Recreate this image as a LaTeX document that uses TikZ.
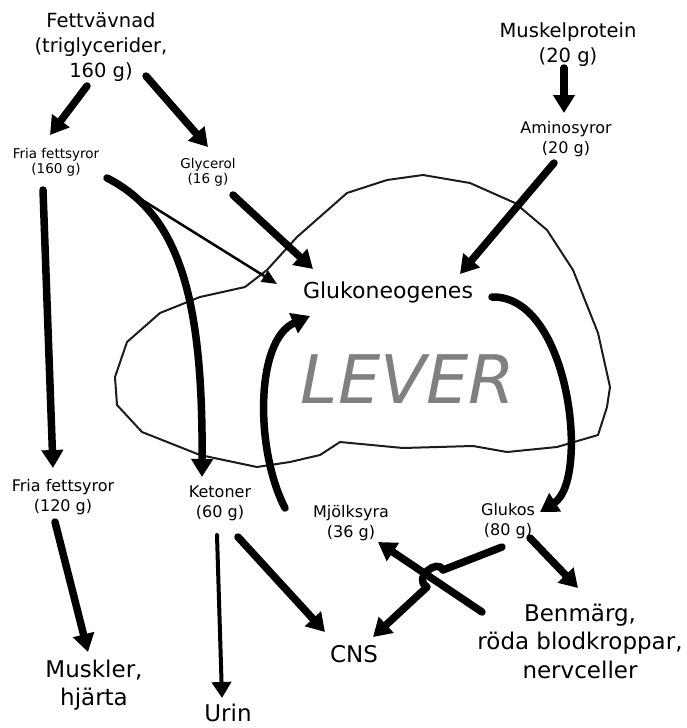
\documentclass[tikz,border=0pt]{standalone}
\usepackage{fontspec}
\setmainfont{DejaVu Sans}
\usetikzlibrary{arrows.meta, positioning, calc}
\usepackage{xcolor}
\definecolor{leverGray}{RGB}{128,128,128}
\definecolor{outlineDark}{RGB}{24,28,36}

\begin{document}
\begin{tikzpicture}[x=1pt, y=-1pt,
    srcbox/.style={align=center, inner sep=0pt, font=\fontsize{19.5}{25}\selectfont},
    endbox/.style={align=center, inner sep=0pt, font=\fontsize{23}{28.5}\selectfont},
    midlabel/.style={align=center, inner sep=0pt, font=\fontsize{16}{20}\selectfont},
    tinylabel/.style={align=center, inner sep=0pt, font=\fontsize{13.5}{15}\selectfont},
    procbox/.style={inner sep=0pt, font=\fontsize{22}{26}\selectfont},
    organ/.style={inner sep=0pt, text=leverGray, font=\fontsize{67}{70}\selectfont\itshape},
    liverline/.style={draw=outlineDark, line width=2pt, line join=round},
    flow/.style={-{Triangle[length=18pt,width=21pt]}, line width=7.5pt, line cap=round, line join=round},
    thinflow/.style={-{Triangle[length=15pt,width=13pt]}, line width=2.5pt, line cap=round},
    midflow/.style={-{Triangle[length=16pt,width=19pt]}, line width=4pt, line cap=round}
]
\useasboundingbox (0,0) rectangle (686,728);

% the liver outline
\draw[liverline] (245,287) -- (267,270) -- (297,237) -- (347,193) -- (387,180) -- (423,175)
  -- (470,183) -- (515,203) -- (547,230) -- (573,270) -- (598,333) -- (610,387) -- (607,407)
  -- (598,435) -- (557,447) -- (507,452) -- (473,446) -- (403,448) -- (340,442) -- (320,455)
  -- (290,462) -- (257,467) -- (200,455) -- (142,432) -- (117,405) -- (115,377) -- (127,342)
  -- (160,313) -- (200,297) -- cycle;

% sources
\node[srcbox] (fett) at (101,47) {Fettvävnad\\(triglycerider,\\160 g)};
\node[srcbox] (musk) at (568,45) {Muskelprotein\\(20 g)};
\node[tinylabel] (fria1) at (56,162) {Fria fettsyror\\(160 g)};
\node[tinylabel] (glyc) at (208,172) {Glycerol\\(16 g)};
\node[midlabel] (amino) at (566,139) {Aminosyror\\(20 g)};

% liver
\node[procbox] (gluko) at (388,292) {Glukoneogenes};
\node[organ] (lever) at (408,379) {LEVER};

% products
\node[midlabel] (fria2) at (63,497) {Fria fettsyror\\(120 g)};
\node[midlabel] (keton) at (220,503) {Ketoner\\(60 g)};
\node[midlabel] (mjolk) at (351,523) {Mjölksyra\\(36 g)};
\node[midlabel] (glukos) at (508,521) {Glukos\\(80 g)};

% consumers
\node[endbox] (benmarg) at (580,641) {Benmärg,\\röda blodkroppar,\\nervceller};
\node[endbox] (cns) at (354,654) {CNS};
\node[endbox] (muskler) at (94,685) {Muskler,\\hjärta};
\node[endbox] (urin) at (228,713) {Urin};

% top arrows
\draw[flow] ([shift={(-14,39)}]fett.center) -- ([shift={(-6,-27)}]fria1.center);
\draw[flow] ([shift={(45,29)}]fett.center) -- ([shift={(0,-25)}]glyc.center);
\draw[flow] ([shift={(-4,23)}]musk.center) -- ([shift={(-2,-26)}]amino.center);

% into gluconeogenesis
\draw[flow] ([shift={(-12,24)}]amino.center) -- ([shift={(72,-18)}]gluko.center);
\draw[flow] ([shift={(25,23)}]glyc.center) -- ([shift={(-75,-23)}]gluko.center);
\draw[thinflow] ([shift={(51,16)}]fria1.center) -- ([shift={(-111,-8)}]gluko.center);
\draw[flow] ([shift={(51,16)}]fria1.center) .. controls +(73,37) and +(1,-177) .. ([shift={(-18,-26)}]keton.center);
\draw[flow] ([shift={(-13,28)}]fria1.center) -- ([shift={(-10,-29)}]fria2.center);

% liver cycle
\draw[flow] ([shift={(104,5)}]gluko.center) .. controls +(78,-2) and +(50,-32) .. ([shift={(32,-9)}]glukos.center);
\draw[flow] ([shift={(-66,-15)}]mjolk.center) .. controls +(-30,-58) and +(-55,24) .. ([shift={(-78,24)}]gluko.center);

% to consumers
\draw[flow] ([shift={(-8,25)}]fria2.center) -- ([shift={(-6,-33)}]muskler.center);
\draw[midflow] ([shift={(-3,32)}]keton.center) -- ([shift={(-6,-15)}]urin.center);
\draw[flow] ([shift={(18,34)}]keton.center) -- ([shift={(-29,-22)}]cns.center);
\draw[flow] ([shift={(22,17)}]glukos.center) -- ([shift={(-2,-53)}]benmarg.center);
\draw[flow] ([shift={(-98,-29)}]benmarg.center) -- ([shift={(27,19)}]mjolk.center);

% glucose to CNS, hopping over the lactate arrow
\coordinate (hopA) at ([shift={(-65,49)}]glukos.center);
\coordinate (hopB) at ([shift={(-81,66)}]glukos.center);
\draw[flow] ([shift={(-6,26)}]glukos.center) -- (hopA) .. controls +(-5,-12) and +(-15,-9) .. (hopB)
  -- ([shift={(19,-17)}]cns.center);

\end{tikzpicture}
\end{document}
